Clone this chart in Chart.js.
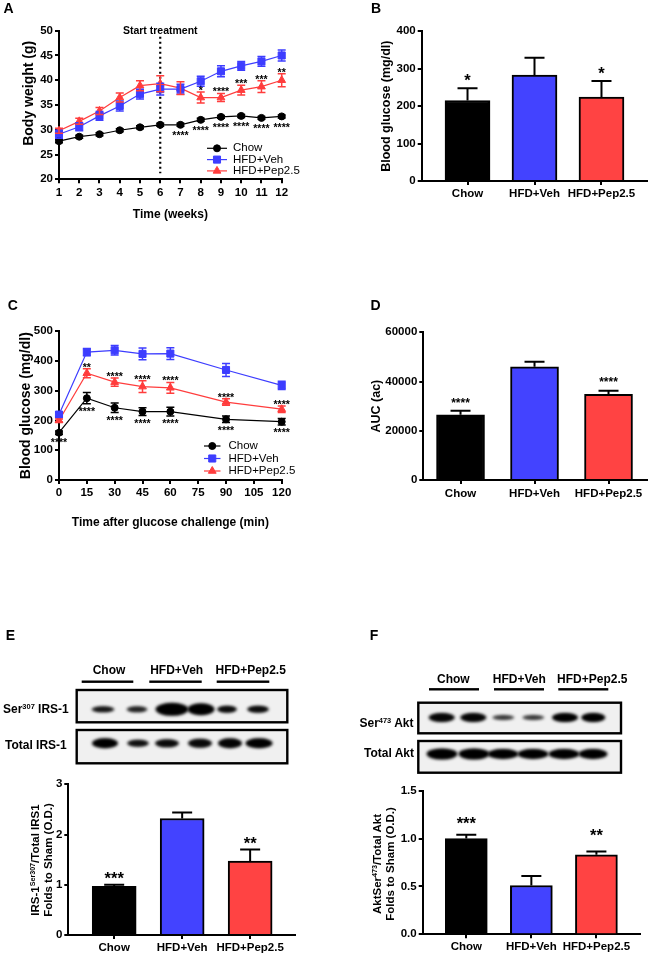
<!DOCTYPE html>
<html>
<head>
<meta charset="utf-8">
<script src="https://cdn.jsdelivr.net/npm/chart.js@4.4.1/dist/chart.umd.min.js"></script>
<style>
body { margin: 0; background: #fff; }
#fig { position: relative; width: 649px; height: 956px; overflow: hidden; font-family: 'Liberation Sans', Arial, sans-serif; color: #000; }
canvas { position: absolute; }
.t { position: absolute; line-height: 1; white-space: nowrap; font-weight: bold; transform: translate(-50%, -50%); }
.t.l { transform: translate(0, -50%); }
.t.r { transform: translate(-100%, -50%); }
sup { font-size: 0.62em; line-height: 0; vertical-align: 0.55em; }
.t.yt { transform: translate(-50%, -50%) rotate(-90deg); text-align: center; line-height: 12.5px; font-size: 11.5px; }
</style>
</head>
<body>
<div id="fig">
  <canvas id="blots" width="649" height="956" style="left:0;top:0"></canvas>
  <canvas id="cA" width="330" height="222" style="left:0;top:0"></canvas>
  <canvas id="cB" width="319" height="222" style="left:330px;top:0"></canvas>
  <canvas id="cC" width="330" height="240" style="left:0;top:290px"></canvas>
  <canvas id="cD" width="319" height="222" style="left:330px;top:290px"></canvas>
  <canvas id="cE" width="330" height="186" style="left:0;top:770px"></canvas>
  <canvas id="cF" width="319" height="186" style="left:330px;top:770px"></canvas>

  <div class="t" style="left:8.5px;top:7.5px;font-size:14px">A</div>
  <div class="t" style="left:376px;top:7.5px;font-size:14px">B</div>
  <div class="t" style="left:12.8px;top:305px;font-size:14px">C</div>
  <div class="t" style="left:375.5px;top:305px;font-size:14px">D</div>
  <div class="t" style="left:10.5px;top:635px;font-size:14px">E</div>
  <div class="t" style="left:374px;top:635px;font-size:14px">F</div>

  <div class="t" style="left:109px;top:670px;font-size:12px">Chow</div>
  <div class="t" style="left:176.7px;top:670px;font-size:12px">HFD+Veh</div>
  <div class="t" style="left:250.7px;top:670px;font-size:12px">HFD+Pep2.5</div>
  <div class="t l" style="left:3px;top:709.3px;font-size:12px">Ser<sup>307</sup> IRS-1</div>
  <div class="t l" style="left:5px;top:745px;font-size:12px">Total IRS-1</div>

  <div class="t" style="left:453.3px;top:679px;font-size:12px">Chow</div>
  <div class="t" style="left:519.3px;top:679px;font-size:12px">HFD+Veh</div>
  <div class="t" style="left:592.3px;top:679px;font-size:12px">HFD+Pep2.5</div>
  <div class="t r" style="left:413.5px;top:722.7px;font-size:12px">Ser<sup>473</sup> Akt</div>
  <div class="t r" style="left:414px;top:752.7px;font-size:12px">Total Akt</div>

  <div class="t yt" style="left:40.8px;top:860px">IRS-1<sup>Ser307</sup>/Total IRS1<br>Folds to Sham (O.D.)</div>
  <div class="t yt" style="left:383.3px;top:864px">AktSer<sup>473</sup>/Total Akt<br>Folds to Sham (O.D.)</div>
</div>

<script>
// ---- data ----
const weeks = [1, 2, 3, 4, 5, 6, 7, 8, 9, 10, 11, 12];
const bwChow = [27.7, 28.6, 29.1, 29.9, 30.5, 31.0, 31.0, 32.0, 32.6, 32.8, 32.4, 32.7];
const bwChowErr = [0.3, 0.3, 0.3, 0.3, 0.3, 0.3, 0.3, 0.3, 0.3, 0.3, 0.3, 0.3];
const bwVeh = [29.1, 30.6, 32.8, 34.8, 37.2, 38.2, 38.2, 39.8, 41.8, 42.9, 43.8, 45.0];
const bwVehErr = [0.8, 0.8, 0.9, 1.0, 1.0, 1.2, 1.0, 1.0, 1.1, 0.9, 1.0, 1.1];
const bwPep = [29.8, 31.7, 33.8, 36.5, 38.9, 39.3, 38.4, 36.5, 36.5, 38.0, 38.7, 40.0];
const bwPepErr = [0.5, 0.6, 0.7, 0.9, 1.0, 1.6, 1.3, 1.1, 0.8, 1.0, 1.2, 1.3];
const bwChowSig = ['', '', '', '', '', '', '****', '****', '****', '****', '****', '****'];
const bwPepSig = ['', '', '', '', '', '', '', '*', '****', '***', '***', '**'];
const bwTicks = [20, 25, 30, 35, 40, 45, 50];

const minutes = [0, 15, 30, 45, 60, 90, 120];
const ogttChow = [159, 275, 243, 230, 230, 204, 196];
const ogttChowErr = [6, 19, 16, 13, 15, 11, 11];
const ogttVeh = [220, 430, 436, 424, 425, 370, 318];
const ogttVehErr = [8, 12, 16, 20, 20, 22, 14];
const ogttPep = [200, 359, 329, 314, 310, 262, 238];
const ogttPepErr = [5, 15, 14, 20, 18, 11, 11];
const ogttChowSig = ['****', '****', '****', '****', '****', '****', '****'];
const ogttPepSig = ['', '**', '****', '****', '****', '****', '****'];
const minuteTicks = [0, 15, 30, 45, 60, 75, 90, 105, 120];
const ogttTicks = [0, 100, 200, 300, 400, 500];

const groups = ['Chow', 'HFD+Veh', 'HFD+Pep2.5'];
const glucose = [215, 283, 224];
const glucoseErr = [33, 46, 43];
const glucoseSig = ['*', '', '*'];
const glucoseTicks = [0, 100, 200, 300, 400];

const auc = [26500, 46000, 34800];
const aucErr = [1600, 2000, 1500];
const aucSig = ['****', '', '****'];
const aucTicks = [0, 20000, 40000, 60000];

const irs = [0.97, 2.32, 1.47];
const irsErr = [0.03, 0.12, 0.23];
const irsSig = ['***', '', '**'];
const irsTicks = [0, 1, 2, 3];

const akt = [1.0, 0.51, 0.83];
const aktErr = [0.04, 0.10, 0.035];
const aktSig = ['***', '', '**'];
const aktTicks = [0, 0.5, 1.0, 1.5];

// blot band strengths (0..1) per lane
const serIrsBands = [0.8, 0.7, 1, 1, 0.9, 0.9];
const totIrsBands = [1, 0.85, 0.9, 0.9, 0.95, 1];
const serAktBands = [0.95, 0.95, 0.55, 0.55, 1, 1];
const totAktBands = [1, 1, 1, 1, 1, 1];

// ---- styles ----
const FONT = "'Liberation Sans', Arial, sans-serif";
const BLACK = '#000000';
const BLUE = '#3d3dff';
const RED = '#ff3d3d';
const BAR_BLUE = '#4343ff';
const BAR_RED = '#ff4343';

Chart.defaults.font.family = FONT;
Chart.defaults.color = '#000';

function axisY(o) {
  return {
    type: 'linear', position: 'left', min: o.min, max: o.max,
    afterFit: s => { s.width = o.width; },
    afterBuildTicks: s => { s.ticks = o.ticks.map(v => ({ value: v })); },
    ticks: { autoSkip: false, padding: 2, font: { size: 11.5, weight: 'bold' }, color: '#000',
      callback: o.fmt || (v => v) },
    grid: { drawOnChartArea: false, tickLength: 4, color: '#000', lineWidth: 2 },
    border: { display: true, color: '#000', width: 2 },
    title: o.title ? { display: true, text: o.title, color: '#000',
      font: { size: o.tsize, weight: 'bold' }, padding: { top: o.tpad, bottom: 0 } } : { display: false }
  };
}

function axisX(o) {
  return {
    type: 'linear', position: 'bottom', min: o.min, max: o.max, offset: false,
    afterFit: s => { s.height = o.height; },
    afterBuildTicks: s => { s.ticks = o.ticks.map(v => ({ value: v })); },
    ticks: { autoSkip: false, maxRotation: 0, minRotation: 0, padding: o.tickPad,
      font: { size: 11.5, weight: 'bold' }, color: '#000', callback: o.fmt || (v => v) },
    grid: { offset: false, drawOnChartArea: false, tickLength: 4, color: '#000', lineWidth: 2 },
    border: { display: true, color: '#000', width: 2 },
    title: o.title ? { display: true, text: o.title, color: '#000',
      font: { size: o.tsize, weight: 'bold' }, padding: { top: o.tpad, bottom: 0 } } : { display: false }
  };
}

function points(xs, ys) {
  return xs.map((x, i) => ({ x: x, y: ys[i] }));
}

function lineSet(label, xs, ys, errs, color, style, radius, sig, sigPos) {
  return {
    label: label, data: points(xs, ys), errors: errs, sig: sig, sigPos: sigPos,
    borderColor: color, backgroundColor: color, borderWidth: 1.2,
    pointStyle: style, pointRadius: radius, pointBorderWidth: 1,
    pointBackgroundColor: color, pointBorderColor: color, clip: false
  };
}

// ---- plugins ----
const errorBars = {
  id: 'errorBars',
  afterDatasetsDraw(chart, args, opts) {
    const ctx = chart.ctx, ys = chart.scales.y;
    const isBar = chart.config.type === 'bar';
    chart.data.datasets.forEach((ds, i) => {
      if (!ds.errors) return;
      const meta = chart.getDatasetMeta(i);
      ctx.save();
      ctx.lineWidth = opts.width;
      ctx.strokeStyle = isBar ? '#000' : ds.borderColor;
      meta.data.forEach((el, j) => {
        const v = ds.data[j].y, e = ds.errors[j];
        const top = ys.getPixelForValue(v + e);
        const bot = isBar ? el.y : ys.getPixelForValue(v - e);
        const h = opts.cap / 2;
        ctx.beginPath();
        ctx.moveTo(el.x, bot); ctx.lineTo(el.x, top);
        ctx.moveTo(el.x - h, top); ctx.lineTo(el.x + h, top);
        if (!isBar) { ctx.moveTo(el.x - h, bot); ctx.lineTo(el.x + h, bot); }
        ctx.stroke();
      });
      ctx.restore();
    });
  }
};

const sigMarks = {
  id: 'sigMarks',
  afterDatasetsDraw(chart, args, opts) {
    const ctx = chart.ctx, ys = chart.scales.y;
    chart.data.datasets.forEach((ds, i) => {
      if (!ds.sig) return;
      const meta = chart.getDatasetMeta(i);
      ctx.save();
      ctx.font = 'bold ' + opts.size + 'px ' + FONT;
      ctx.fillStyle = '#000';
      ctx.textAlign = 'center';
      ctx.textBaseline = 'alphabetic';
      meta.data.forEach((el, j) => {
        const s = ds.sig[j];
        if (!s) return;
        const v = ds.data[j].y, e = ds.errors[j];
        let cy;
        if (ds.sigPos === 'below') cy = ys.getPixelForValue(v - e) + opts.gapBelow;
        else cy = ys.getPixelForValue(v + e) - (Array.isArray(opts.gapAbove) ? opts.gapAbove[j] : opts.gapAbove);
        ctx.fillText(s, el.x, cy + 0.56 * opts.size);
      });
      ctx.restore();
    });
  }
};

const sideLegend = {
  id: 'sideLegend',
  afterDraw(chart, args, opts) {
    if (!opts || !opts.show) return;
    const ctx = chart.ctx;
    chart.data.datasets.forEach((ds, i) => {
      const y = opts.y + i * opts.gap;
      ctx.save();
      ctx.strokeStyle = ds.borderColor;
      ctx.lineWidth = ds.borderWidth;
      ctx.beginPath(); ctx.moveTo(opts.x, y); ctx.lineTo(opts.x + opts.len, y); ctx.stroke();
      ctx.fillStyle = ds.pointBackgroundColor;
      ctx.strokeStyle = ds.pointBorderColor;
      ctx.lineWidth = 1;
      Chart.helpers.drawPoint(ctx, { pointStyle: ds.pointStyle, radius: ds.pointRadius, rotation: 0, borderWidth: 1 },
        opts.x + opts.len / 2, y);
      ctx.fillStyle = '#000';
      ctx.font = opts.size + 'px ' + FONT;
      ctx.textAlign = 'left';
      ctx.textBaseline = 'middle';
      ctx.fillText(ds.label, opts.x + opts.len + opts.pad, y);
      ctx.restore();
    });
  }
};

const startLine = {
  id: 'startLine',
  beforeDatasetsDraw(chart, args, opts) {
    if (!opts || !opts.text) return;
    const ctx = chart.ctx;
    const x = chart.scales.x.getPixelForValue(opts.at);
    ctx.save();
    ctx.strokeStyle = '#000';
    ctx.lineWidth = 2.2;
    ctx.setLineDash([2, 3]);
    ctx.beginPath();
    ctx.moveTo(x, chart.scales.y.getPixelForValue(opts.from));
    ctx.lineTo(x, chart.scales.y.getPixelForValue(opts.to));
    ctx.stroke();
    ctx.setLineDash([]);
    ctx.font = 'bold 10.5px ' + FONT;
    ctx.fillStyle = '#000';
    ctx.textAlign = 'center';
    ctx.textBaseline = 'middle';
    ctx.fillText(opts.text, x, chart.chartArea.top);
    ctx.restore();
  }
};

const base = { responsive: false, animation: false, events: [] };

function lineChart(id, datasets, o) {
  return new Chart(document.getElementById(id), {
    type: 'line',
    data: { datasets: datasets },
    options: Object.assign({}, base, {
      layout: { padding: o.padding },
      scales: { x: o.x, y: o.y },
      plugins: Object.assign({ legend: { display: false }, tooltip: { enabled: false },
        errorBars: { width: 1.5, cap: 8 } }, o.plugins)
    }),
    plugins: [startLine, errorBars, sigMarks, sideLegend]
  });
}

function barChart(id, values, errs, sig, o) {
  return new Chart(document.getElementById(id), {
    type: 'bar',
    data: { datasets: [{
      data: points([1, 2, 3], values), errors: errs, sig: sig, sigPos: 'above',
      backgroundColor: [BLACK, BAR_BLUE, BAR_RED], borderColor: '#000', borderWidth: 2,
      barThickness: o.thickness
    }] },
    options: Object.assign({}, base, {
      layout: { padding: o.padding },
      scales: {
        x: axisX({ min: o.xmin, max: o.xmax, ticks: [1, 2, 3], height: o.xh, tickPad: o.tickPad,
          fmt: v => groups[Math.round(v) - 1] }),
        y: o.y
      },
      plugins: { legend: { display: false }, tooltip: { enabled: false },
        errorBars: { width: 2, cap: 20 }, sigMarks: { size: o.sigSize, gapAbove: o.gap } }
    }),
    plugins: [errorBars, sigMarks]
  });
}

// ---- A: body weight ----
lineChart('cA', [
  lineSet('Chow', weeks, bwChow, bwChowErr, BLACK, 'circle', 3.5, bwChowSig, 'below'),
  lineSet('HFD+Veh', weeks, bwVeh, bwVehErr, BLUE, 'rect', 5, null),
  lineSet('HFD+Pep2.5', weeks, bwPep, bwPepErr, RED, 'triangle', 4.5, bwPepSig, 'above')
], {
  padding: { left: 0, top: 30.7, right: 48.3, bottom: 0 },
  x: axisX({ min: 1, max: 12, ticks: weeks, height: 42.7, tickPad: 3, title: 'Time (weeks)', tsize: 12, tpad: 4.8 }),
  y: axisY({ min: 20, max: 50, ticks: bwTicks, width: 59, title: '      Body weight (g)', tsize: 14, tpad: 21 }),
  plugins: {
    sigMarks: { size: 10.5, gapBelow: 7, gapAbove: 4 },
    sideLegend: { show: true, x: 207, y: 148.3, gap: 11.3, len: 20, pad: 6, size: 11.5 },
    startLine: { text: 'Start treatment', at: 6, from: 48.8, to: 21.2 }
  }
});

// ---- B: fasting glucose ----
barChart('cB', glucose, glucoseErr, glucoseSig, {
  padding: { left: 0, top: 31.3, right: 2.3, bottom: 0 },
  xmin: 0.316, xmax: 3.675, xh: 41, tickPad: 1.5, thickness: 45, sigSize: 16.5, gap: 11,
  y: axisY({ min: 0, max: 400, ticks: glucoseTicks, width: 91.7, title: 'Blood glucose (mg/dl)', tsize: 12.5, tpad: 49.5 })
});

// ---- C: glucose tolerance ----
lineChart('cC', [
  lineSet('Chow', minutes, ogttChow, ogttChowErr, BLACK, 'circle', 3.5, ogttChowSig, 'below'),
  lineSet('HFD+Veh', minutes, ogttVeh, ogttVehErr, BLUE, 'rect', 5, null),
  lineSet('HFD+Pep2.5', minutes, ogttPep, ogttPepErr, RED, 'triangle', 4.5, ogttPepSig, 'above')
], {
  padding: { left: 0, top: 41.3, right: 48.3, bottom: 0 },
  x: axisX({ min: 0, max: 120, ticks: minuteTicks, height: 50, tickPad: 2.3, title: 'Time after glucose challenge (min)', tsize: 12, tpad: 5.8 }),
  y: axisY({ min: 0, max: 500, ticks: ogttTicks, width: 59, title: 'Blood glucose (mg/dl)', tsize: 14, tpad: 17.6 }),
  plugins: {
    sigMarks: { size: 10.5, gapBelow: 5.5, gapAbove: 4 },
    sideLegend: { show: true, x: 204, y: 156, gap: 12.5, len: 16.5, pad: 8, size: 11.5 }
  }
});

// ---- D: AUC ----
barChart('cD', auc, aucErr, aucSig, {
  padding: { left: 0, top: 42.3, right: 2.3, bottom: 0 },
  xmin: 0.497, xmax: 3.516, xh: 32, tickPad: 2.5, thickness: 48, sigSize: 12, gap: 11,
  y: axisY({ min: 0, max: 60000, ticks: aucTicks, width: 93.3, title: 'AUC (ac)', tsize: 12.5, tpad: 39.5 })
});

// ---- E: IRS-1 ----
barChart('cE', irs, irsErr, irsSig, {
  padding: { left: 0, top: 14.3, right: 35, bottom: 0 },
  xmin: 0.325, xmax: 3.66, xh: 21, tickPad: 2.2, thickness: 44, sigSize: 16.5, gap: 10,
  y: axisY({ min: 0, max: 3, ticks: irsTicks, width: 68.3 })
});

// ---- F: Akt ----
barChart('cF', akt, aktErr, aktSig, {
  padding: { left: 0, top: 20.7, right: 9, bottom: 0 },
  xmin: 0.33, xmax: 3.67, xh: 21.7, tickPad: 1.6, thickness: 42, sigSize: 16.5, gap: [15, 0, 20],
  y: axisY({ min: 0, max: 1.5, ticks: aktTicks, width: 92.7, fmt: v => v.toFixed(1) })
});

// ---- western blot strips ----
function drawBlot(ctx, box, lanes, widths, heights, strength, cy) {
  ctx.save();
  ctx.fillStyle = '#f0f0f0';
  ctx.fillRect(box[0], box[1], box[2] - box[0], box[3] - box[1]);
  ctx.beginPath();
  ctx.rect(box[0], box[1], box[2] - box[0], box[3] - box[1]);
  ctx.clip();
  ctx.filter = 'blur(1.4px)';
  lanes.forEach((x, i) => {
    ctx.fillStyle = 'rgba(0,0,0,' + (0.35 + 0.65 * strength[i]) + ')';
    ctx.beginPath();
    ctx.ellipse(x, cy, widths[i] / 2, heights[i] / 2, 0, 0, Math.PI * 2);
    ctx.fill();
    ctx.fillStyle = 'rgba(0,0,0,' + (0.5 * strength[i]) + ')';
    ctx.beginPath();
    ctx.ellipse(x, cy, widths[i] / 2.6, heights[i] / 2.8, 0, 0, Math.PI * 2);
    ctx.fill();
  });
  ctx.restore();
  ctx.lineWidth = 2.4;
  ctx.strokeStyle = '#000';
  ctx.strokeRect(box[0], box[1], box[2] - box[0], box[3] - box[1]);
}

function drawUnderlines(ctx, spans, y) {
  ctx.fillStyle = '#000';
  spans.forEach(s => ctx.fillRect(s[0], y - 1.2, s[1] - s[0], 2.4));
}

const bctx = document.getElementById('blots').getContext('2d');
drawUnderlines(bctx, [[81.7, 133.3], [149.3, 201.7], [216.7, 269.3]], 681.7);
drawBlot(bctx, [76.7, 690, 287.3, 722.3], [103, 137, 172, 201, 227, 258],
  [23, 21, 33, 27, 20, 22], [6, 6, 13, 12, 7, 7], serIrsBands, 709.3);
drawBlot(bctx, [76.7, 730, 287.3, 763.3], [105, 138, 167, 200, 230, 259],
  [26, 22, 24, 24, 24, 27], [10, 7, 8, 9, 10, 10], totIrsBands, 743.3);
drawUnderlines(bctx, [[429, 479], [494, 544], [558.3, 608.3]], 689.3);
drawBlot(bctx, [418.3, 702.7, 621, 733.3], [441.7, 473.3, 503.3, 533.3, 565, 593.3],
  [26, 26, 22, 22, 26, 24], [9, 9, 5, 5, 9, 9], serAktBands, 717.5);
drawBlot(bctx, [418.3, 741, 621, 772.7], [442, 474, 503, 533, 564, 593],
  [31, 31, 31, 31, 31, 29], [11, 11, 10, 10, 10, 10], totAktBands, 754);
</script>
</body>
</html>
